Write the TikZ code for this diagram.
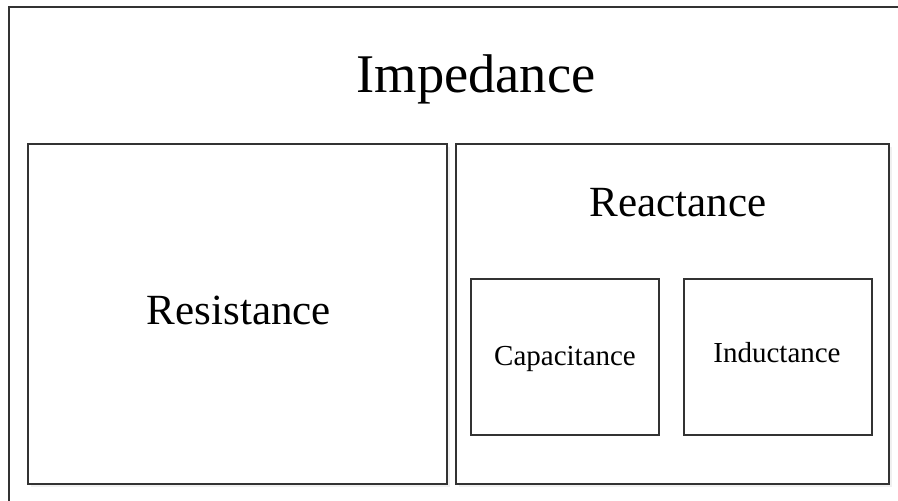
\documentclass[tikz,border=0pt]{standalone}
\usepackage{fontspec}
\setmainfont{Liberation Serif}
\usetikzlibrary{positioning,shadows}

\begin{document}
\begin{tikzpicture}[x=0.02cm, y=-0.02cm,
  frame/.style={rectangle, draw=black!80, line width=0.8pt, fill=white, inner sep=0pt, outer sep=0pt},
  panel/.style={frame, minimum height=6.8cm, drop shadow={opacity=0.12, shadow xshift=1.5pt, shadow yshift=-1.5pt}},
  part/.style={frame, minimum width=3.76cm, minimum height=3.12cm},
  big/.style={anchor=base, font=\fontsize{24.5}{30}\selectfont},
  small/.style={anchor=base, font=\fontsize{16.5}{20}\selectfont}]
\useasboundingbox (0,0) rectangle (898,500);
\clip (0,0) rectangle (898,500);
\draw[draw=black!80, line width=0.8pt] (9,7) rectangle (920,520);
\node[anchor=base, font=\fontsize{31}{36}\selectfont] (imp) at (476,92) {Impedance};
\node[panel, minimum width=8.38cm] (res) at (237.5,314) {};
\node[panel, minimum width=8.66cm, right=0.18cm of res] (rea) {};
\node[part] (cap) at (565,357) {};
\node[part, right=0.5cm of cap] (ind) {};
% labels
\node[big] (restxt) at (239,324) {Resistance};
\node[big] (reatxt) at (678,216) {Reactance};
\node[small] (captxt) at (565,365) {Capacitance};
\node[small] (indtxt) at (777,362) {Inductance};
\end{tikzpicture}
\end{document}
